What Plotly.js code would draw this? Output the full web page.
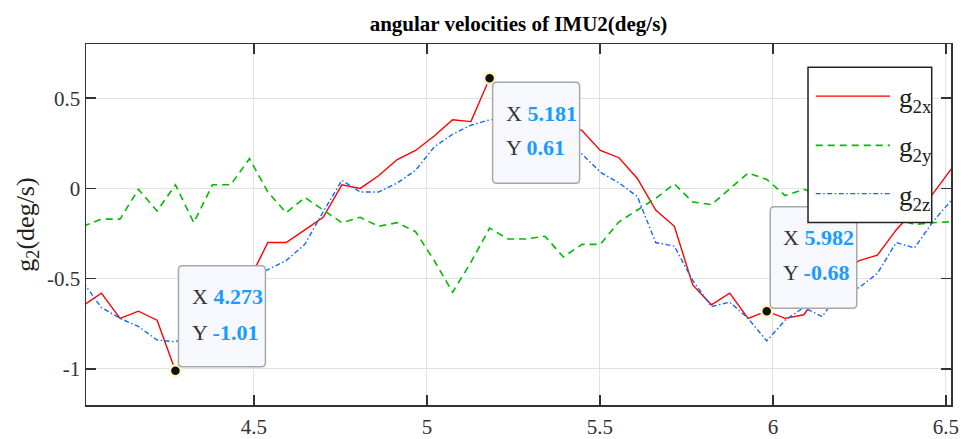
<!DOCTYPE html>
<html><head><meta charset="utf-8">
<script src="https://cdn.plot.ly/plotly-3.0.1.min.js"></script>
<style>html,body{margin:0;padding:0;background:#fff}#chart{width:969px;height:439px}</style>
</head><body><div id="chart"></div>
<script>
// ---- data ----
const time = [4.006, 4.059, 4.113, 4.166, 4.220, 4.273, 4.326, 4.380, 4.433, 4.487,
  4.540, 4.593, 4.647, 4.700, 4.754, 4.807, 4.860, 4.914, 4.967, 5.021,
  5.074, 5.127, 5.181, 5.234, 5.288, 5.341, 5.394, 5.448, 5.501, 5.555,
  5.608, 5.661, 5.715, 5.768, 5.822, 5.875, 5.928, 5.982, 6.035, 6.089,
  6.142, 6.195, 6.249, 6.302, 6.356, 6.409, 6.462, 6.516];
const g2x = [-0.65, -0.58, -0.72, -0.68, -0.73, -1.01, -0.88, -0.74, -0.62, -0.505,
  -0.30, -0.30, -0.23, -0.16, 0.02, 0.00, 0.07, 0.16, 0.21, 0.29,
  0.38, 0.37, 0.61, 0.52, 0.47, 0.42, 0.37, 0.32, 0.21, 0.17,
  0.055, -0.12, -0.21, -0.535, -0.645, -0.58, -0.72, -0.68, -0.72, -0.70,
  -0.56, -0.47, -0.40, -0.37, -0.23, -0.12, -0.03, 0.11];
const g2y = [-0.21, -0.17, -0.17, -0.005, -0.125, 0.02, -0.19, 0.02, 0.02, 0.165,
  -0.02, -0.135, -0.05, -0.12, -0.19, -0.16, -0.21, -0.19, -0.24, -0.40,
  -0.575, -0.41, -0.22, -0.28, -0.28, -0.265, -0.38, -0.31, -0.31, -0.185,
  -0.12, -0.055, 0.025, -0.075, -0.09, 0.00, 0.085, 0.05, -0.04, -0.005,
  -0.04, -0.08, -0.12, -0.15, -0.17, -0.20, -0.19, -0.185];
const g2z = [-0.52, -0.66, -0.72, -0.765, -0.84, -0.85, -0.80, -0.70, -0.60, -0.50,
  -0.45, -0.40, -0.31, -0.13, 0.045, -0.02, -0.02, 0.03, 0.10, 0.23,
  0.30, 0.35, 0.38, 0.39, 0.37, 0.33, 0.26, 0.19, 0.09, 0.03,
  -0.045, -0.30, -0.32, -0.51, -0.655, -0.63, -0.72, -0.845, -0.73, -0.66,
  -0.71, -0.57, -0.55, -0.47, -0.30, -0.33, -0.185, -0.065];
const seriesNames = ['g<sub>2x</sub>', 'g<sub>2y</sub>', 'g<sub>2z</sub>'];
const tipX = [4.273, 5.181, 5.982];
const tipY = [-1.01, 0.61, -0.68];
const xTicks = [4.5, 5, 5.5, 6, 6.5];
const xTickText = ['4.5', '5', '5.5', '6', '6.5'];
const yTicks = [-1, -0.5, 0, 0.5];
const yTickText = ['-1', '-0.5', '0', '0.5'];
const titleText = 'angular velocities of IMU2(deg/s)';
const yTitleText = 'g<sub>2</sub>(deg/s)';

// ---- styles ----
const FONT = '"Liberation Serif", "Times New Roman", serif';
const colors = ['#ff0000', '#00bb00', '#1466ff'];
const dashes = ['solid', '7px,5px', '5px,2.5px,1.5px,2.5px'];
const widths = [1.4, 1.6, 1.4];
const TIPBLUE = '#1a9cff';

const seriesY = [g2x, g2y, g2z];
const traces = seriesY.map((ys, i) => ({
  type: 'scatter', mode: 'lines', x: time, y: ys, name: seriesNames[i],
  line: {color: colors[i], width: widths[i], dash: dashes[i]},
  showlegend: false, hoverinfo: 'skip'
}));
traces.push({
  type: 'scatter', mode: 'markers', x: tipX, y: tipY, showlegend: false,
  marker: {size: 11, color: '#111', line: {color: '#fff6c0', width: 2.5}},
  hoverinfo: 'skip', cliponaxis: false
});

// datatip geometry (pixel offsets from the tip point; +y is up)
const tipBoxes = [
  {x0: 3, x1: 90, y0: 4, y1: 105, tx: 15, rows: [74, 38]},
  {x0: 3, x1: 90, y0: -4, y1: -105, tx: 14.5, rows: [-35, -69]},
  {x0: 3.5, x1: 90, y0: 3, y1: 104.5, tx: 14, rows: [74, 38.5]}
];
function roundRect(b, r) {
  const x0 = b.x0, x1 = b.x1, ya = Math.min(b.y0, b.y1), yb = Math.max(b.y0, b.y1);
  return `M${x0 + r},${ya} L${x1 - r},${ya} Q${x1},${ya} ${x1},${ya + r} L${x1},${yb - r} Q${x1},${yb} ${x1 - r},${yb} ` +
         `L${x0 + r},${yb} Q${x0},${yb} ${x0},${yb - r} L${x0},${ya + r} Q${x0},${ya} ${x0 + r},${ya} Z`;
}

const shapes = [];
const annotations = [];
tipX.forEach((tx, i) => {
  const b = tipBoxes[i];
  shapes.push({
    type: 'path', xref: 'x', yref: 'y', xsizemode: 'pixel', ysizemode: 'pixel',
    xanchor: tx, yanchor: tipY[i], path: roundRect(b, 4),
    fillcolor: '#f7f8fd', line: {color: '#a8a8a8', width: 1.5}, layer: 'above'
  });
  const fmtY = String(tipY[i]);
  const rowsText = [
    `X <b><span style="color:${TIPBLUE}">${tx.toFixed(3)}</span></b>`,
    `Y <b><span style="color:${TIPBLUE}">${fmtY}</span></b>`
  ];
  rowsText.forEach((t, j) => annotations.push({
    xref: 'x', yref: 'y', x: tx, y: tipY[i], xanchor: 'left', yanchor: 'middle',
    xshift: b.tx, yshift: b.rows[j], text: t, showarrow: false,
    font: {family: FONT, size: 22, color: '#333'}
  }));
});

// custom legend (paper coords)
shapes.push({
  type: 'rect', xref: 'paper', yref: 'paper', x0: 0.8347, x1: 0.9777, y0: 0.5054, y1: 0.9358,
  fillcolor: '#ffffff', line: {color: '#222', width: 1.5}, layer: 'above'
});
const legRows = [0.8556, 0.7192, 0.5856];
legRows.forEach((ly, i) => {
  shapes.push({
    type: 'line', xref: 'paper', yref: 'paper', x0: 0.8436, x1: 0.9295, y0: ly, y1: ly,
    line: {color: colors[i], width: widths[i], dash: dashes[i]}, layer: 'above'
  });
  annotations.push({
    xref: 'paper', yref: 'paper', x: 0.9372, y: ly, xanchor: 'left', yanchor: 'middle',
    yshift: -4, text: seriesNames[i], showarrow: false,
    font: {family: FONT, size: 27, color: '#222'}
  });
});

const axisCommon = {
  showline: true, linecolor: '#333', linewidth: 1.5, mirror: 'ticks',
  ticks: 'inside', ticklen: 10, tickwidth: 1.5, tickcolor: '#333',
  showgrid: true, gridcolor: '#e2e2e2', gridwidth: 1, zeroline: false,
  tickfont: {family: FONT, size: 21, color: '#333'}, tickmode: 'array'
};

const layout = {
  width: 969, height: 439, margin: {l: 86, r: 18, t: 43.5, b: 34},
  paper_bgcolor: '#fff', plot_bgcolor: '#fff', showlegend: false,
  title: {text: '<b>' + titleText + '</b>', font: {family: FONT, size: 21, color: '#000'},
          xref: 'paper', x: 0.5, xanchor: 'center', yref: 'container', y: 0.945, yanchor: 'middle'},
  xaxis: Object.assign({}, axisCommon, {range: [4.0145, 6.5145], tickvals: xTicks, ticktext: xTickText, ticklabelstandoff: 2}),
  yaxis: Object.assign({}, axisCommon, {range: [-1.2, 0.8], tickvals: yTicks, ticktext: yTickText,
          title: {text: yTitleText, font: {family: FONT, size: 26, color: '#222'}, standoff: 5}}),
  shapes: shapes, annotations: annotations
};

Plotly.newPlot('chart', traces, layout, {displayModeBar: false, staticPlot: true});
</script></body></html>
